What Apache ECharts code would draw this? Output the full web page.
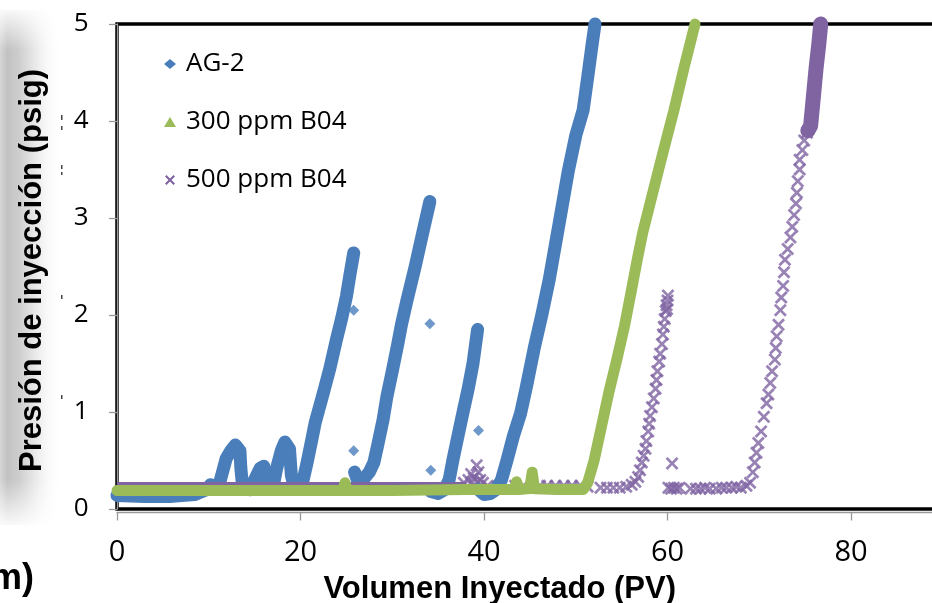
<!DOCTYPE html>
<html>
<head>
<meta charset="utf-8">
<title>Presión de inyección vs Volumen inyectado</title>
<script src="https://cdn.jsdelivr.net/npm/echarts@6.0.0/dist/echarts.min.js"></script>
<style>
  html, body { margin: 0; padding: 0; background: #fff; overflow: hidden; }
  #chart { width: 1100px; height: 603px; }
</style>
</head>
<body>
<div id="chart"></div>
<script>
// AG-2 (blue): dense runs drawn as thick broken line, null = gap
var agVol = [0, 3, 6, 8.5, 9.8, 10.2, 10.6, 11.1, 11.5, 11.9, 12.4, 12.9, 13.4, 13.5, 13.7, 14.5, 15.0, 15.6, 16.0, 16.2, 16.5, 17.0, 17.4, 17.9, 18.3, 18.8, 19.0, 19.4, 20.1, 20.7, 21.2, 21.6, 22.5, 23.2, 23.9, 24.5, 25.0, 25.4, 25.8,
  null,
  25.9, 26.2, 26.8, 27.5, 28.0, 28.4, 29.0, 29.4, 30.0, 30.6, 31.0, 31.6, 32.5, 33.4, 34.1,
  null,
  34.2, 35.0, 35.7, 36.2, 36.6, 37.2, 37.7, 38.3, 38.8, 39.3,
  null,
  39.4, 40.0, 40.7, 41.3, 41.9, 42.5, 43.2, 44.0, 44.6, 45.5, 46.3, 47.1, 48.2, 49.2, 50.0, 50.8, 51.3, 51.8, 52.1];
var agPres = [0.14, 0.13, 0.13, 0.15, 0.2, 0.25, 0.2, 0.24, 0.38, 0.52, 0.6, 0.66, 0.6, 0.42, 0.22, 0.2, 0.3, 0.42, 0.44, 0.3, 0.2, 0.22, 0.42, 0.6, 0.69, 0.62, 0.35, 0.2, 0.22, 0.47, 0.7, 0.89, 1.2, 1.45, 1.74, 1.97, 2.19, 2.42, 2.64,
  null,
  0.38, 0.3, 0.3, 0.38, 0.48, 0.65, 0.92, 1.15, 1.42, 1.7, 1.9, 2.15, 2.5, 2.88, 3.17,
  null,
  0.18, 0.16, 0.2, 0.3, 0.5, 0.77, 0.99, 1.25, 1.5, 1.85,
  null,
  0.2, 0.15, 0.16, 0.2, 0.3, 0.5, 0.75, 0.99, 1.25, 1.67, 2.0, 2.36, 2.95, 3.49, 3.85, 4.11, 4.45, 4.8, 5.0];

// AG-2 stray points
var agOutVol = [25.8, 25.8, 34.1, 34.2, 39.4];
var agOutPres = [2.05, 0.6, 1.91, 0.4, 0.81];

// 300 ppm B04 (green)
var b300Vol = [0, 10, 20, 24.6, 24.85, 25.1, 30, 38, 43.3, 43.55, 43.8, 45.0, 45.25, 45.5, 48, 50.8, 51.3, 52.0, 52.8, 53.6, 54.5, 55.3, 56.0, 56.7, 57.3, 58.5, 59.6, 60.7, 61.8, 63.0];
var b300Pres = [0.19, 0.19, 0.19, 0.19, 0.27, 0.19, 0.19, 0.2, 0.2, 0.28, 0.2, 0.21, 0.38, 0.21, 0.2, 0.2, 0.27, 0.5, 0.85, 1.2, 1.55, 1.88, 2.22, 2.57, 2.85, 3.3, 3.71, 4.11, 4.55, 5.0];

// 500 ppm B04 (purple): flat start and packed top run
var b500BaseVol = [0, 20, 38];
var b500BasePres = [0.26, 0.26, 0.26];
var b500TopVol = [75.3, 75.6, 75.9, 76.2, 76.5, 76.7];
var b500TopPres = [3.9, 3.95, 4.25, 4.55, 4.8, 5.0];

// 500 ppm B04 single markers
var b500Vol = [37.8, 38.3, 38.6, 38.9, 39.2, 39.4, 39.6, 39.9, 38.7, 39.3,
  40.4, 41.5, 43.4, 44.3, 45.2, 46.1, 46.9, 47.8, 48.7, 49.6, 50.5, 51.3, 52.7, 53.4, 54.1, 54.8, 55.5, 56.1, 56.5,
  56.8, 57.0, 57.2, 57.4, 57.6, 57.7, 57.9, 58.0, 58.1, 58.3, 58.5, 58.7, 58.8, 58.9, 59.1, 59.2, 59.4, 59.5, 59.6, 59.7, 59.8, 59.9, 60.0, 60.05, 59.95,
  60.5,
  60.1, 60.4, 60.7, 61.0, 61.3, 62.5, 63.1, 63.6, 64.1, 64.6, 65.3, 65.9, 66.4, 67.0, 67.5, 68.0, 68.6,
  69.0, 69.3, 69.5, 69.7, 69.9, 70.2, 70.5, 70.8, 71.0, 71.2, 71.4, 71.7, 71.8, 71.9, 72.1, 72.3, 72.4, 72.6, 72.7, 72.8, 73.1, 73.4, 73.6, 73.8, 74.0, 74.1, 74.2, 74.4, 74.4, 74.7, 74.9, 75.2];
var b500Pres = [0.27, 0.3, 0.36, 0.32, 0.45, 0.38, 0.3, 0.27, 0.27, 0.28,
  0.24, 0.23, 0.24, 0.24, 0.24, 0.24, 0.24, 0.24, 0.24, 0.24, 0.24, 0.23, 0.22, 0.22, 0.22, 0.22, 0.23, 0.25, 0.28,
  0.33, 0.4, 0.48, 0.55, 0.62, 0.7, 0.8, 0.88, 0.96, 1.05, 1.14, 1.24, 1.33, 1.42, 1.52, 1.6, 1.7, 1.8, 1.88, 1.96, 2.04, 2.1, 2.15, 2.2, 2.06,
  0.47,
  0.22, 0.21, 0.22, 0.21, 0.22, 0.21, 0.21, 0.21, 0.22, 0.21, 0.21, 0.22, 0.22, 0.22, 0.23, 0.22, 0.24,
  0.27, 0.38, 0.48, 0.58, 0.68, 0.8, 0.95, 1.09, 1.18, 1.3, 1.42, 1.54, 1.66, 1.78, 1.9, 2.05, 2.18, 2.3, 2.44, 2.57, 2.68, 2.8, 2.91, 3.03, 3.15, 3.26, 3.38, 3.5, 3.6, 3.7, 3.8, 3.88];

var blue = '#4A7EBB', green = '#9BBB59', purple = '#8064A2';
var crossPath = 'path://M0,1.5 L1.5,0 L5,3.5 L8.5,0 L10,1.5 L6.5,5 L10,8.5 L8.5,10 L5,6.5 L1.5,10 L0,8.5 L3.5,5 Z';

function pairs(xs, ys) {
    return xs.map(function (x, i) {
        return x == null ? ['-', '-'] : [x, ys[i]];
    });
}

function fade(x, y, w, h, horizontal, stops) {
    return {
        type: 'rect', z: -10, silent: true,
        shape: { x: x, y: y, width: w, height: h },
        style: {
            fill: new echarts.graphic.LinearGradient(0, 0, horizontal ? 1 : 0, horizontal ? 0 : 1,
                stops.map(function (s) { return { offset: s[0], color: s[1] }; }))
        }
    };
}

var chart = echarts.init(document.getElementById('chart'));
chart.setOption({
    animation: false,
    grid: {
        left: 117, top: 24, width: 917.5, height: 485,
        outerBoundsMode: 'none',
        show: true, borderColor: '#000', borderWidth: 3.5
    },
    legend: {
        orient: 'vertical',
        left: 159, top: 46,
        itemWidth: 12, itemHeight: 10, itemGap: 32,
        lineStyle: { opacity: 0, width: 0 },
        textStyle: { fontFamily: 'Open Sans', fontSize: 26, lineHeight: 26, color: '#000', padding: [0, 0, 0, 5] },
        data: [
            { name: 'AG-2', icon: 'diamond' },
            { name: '300 ppm B04', icon: 'triangle' },
            { name: '500 ppm B04', icon: crossPath }
        ]
    },
    xAxis: {
        type: 'value', min: 0, max: 100, interval: 20, offset: 3.5,
        axisLine: { show: true, onZero: false, lineStyle: { color: '#9a9a9a', width: 1.3 } },
        axisTick: { show: true, length: 8, lineStyle: { color: '#9a9a9a', width: 1.3 } },
        axisLabel: { margin: 26, color: '#000', fontSize: 29, fontFamily: 'Open Sans' },
        splitLine: { show: false },
        name: 'Volumen Inyectado (PV)', nameLocation: 'middle', nameGap: 61,
        nameTextStyle: { fontFamily: 'Liberation Sans', fontWeight: 'bold', fontSize: 31, color: '#000', padding: [0, 152, 0, 0] }
    },
    yAxis: {
        type: 'value', min: 0, max: 5, interval: 1, offset: 3.5,
        axisLine: { show: true, lineStyle: { color: '#9a9a9a', width: 1.3 } },
        axisTick: { show: true, length: 8, lineStyle: { color: '#9a9a9a', width: 1.3 } },
        axisLabel: { margin: 25, color: '#000', fontSize: 26, fontFamily: 'Open Sans' },
        splitLine: { show: false },
        name: 'Presión de inyección (psig)', nameLocation: 'middle', nameGap: 66, nameRotate: 90,
        nameTextStyle: { fontFamily: 'Liberation Sans', fontWeight: 'bold', fontSize: 31, color: '#000', padding: [0, 8, 0, 0] }
    },
    graphic: [
        // soft grey shade down the left edge
        fade(0, 10, 62, 515, true, [[0, '#d6d6d6'], [0.12, '#c2c2c2'], [0.3, '#cdcdcd'], [0.6, '#ececec'], [1, 'rgba(255,255,255,0)']]),
        fade(0, 5, 62, 45, false, [[0, '#ffffff'], [1, 'rgba(255,255,255,0)']]),
        fade(0, 480, 62, 50, false, [[0, 'rgba(255,255,255,0)'], [1, '#ffffff']]),
        { type: 'rect', silent: true, shape: { x: 61, y: 115, width: 1.5, height: 5 }, style: { fill: '#444' } },
        { type: 'rect', silent: true, shape: { x: 61, y: 126, width: 1.5, height: 4 }, style: { fill: '#444' } },
        { type: 'rect', silent: true, shape: { x: 61, y: 165, width: 1.5, height: 4 }, style: { fill: '#444' } },
        { type: 'rect', silent: true, shape: { x: 61, y: 172, width: 1.5, height: 3 }, style: { fill: '#444' } },
        { type: 'rect', silent: true, shape: { x: 61, y: 295, width: 1.5, height: 4 }, style: { fill: '#444' } },
        { type: 'rect', silent: true, shape: { x: 61, y: 395, width: 1.5, height: 4 }, style: { fill: '#444' } },
        {
            type: 'text', silent: true, x: 34, y: 579,
            style: {
                text: 'm)', fill: '#000', align: 'right', verticalAlign: 'middle',
                fontFamily: 'Liberation Sans', fontWeight: 'bold', fontSize: 36
            }
        }
    ],
    series: [
        {
            name: 'AG-2', type: 'line', data: pairs(agVol, agPres),
            symbol: 'none', showSymbol: false, connectNulls: false, clip: false, silent: true,
            itemStyle: { color: blue },
            lineStyle: { color: blue, width: 13, cap: 'round', join: 'round' }
        },
        {
            name: 'AG-2', type: 'scatter', data: pairs(agOutVol, agOutPres),
            symbol: 'diamond', symbolSize: 11, silent: true,
            itemStyle: { color: blue }
        },
        {
            name: '500 ppm B04', type: 'line', data: pairs(b500BaseVol, b500BasePres),
            symbol: 'none', showSymbol: false, clip: false, silent: true,
            itemStyle: { color: purple },
            lineStyle: { color: purple, width: 3.5 }
        },
        {
            name: '300 ppm B04', type: 'line', data: pairs(b300Vol, b300Pres),
            symbol: 'none', showSymbol: false, clip: false, silent: true,
            itemStyle: { color: green },
            lineStyle: { color: green, width: 11, cap: 'round', join: 'round' }
        },
        {
            name: '500 ppm B04', type: 'scatter', data: pairs(b500Vol, b500Pres),
            symbol: crossPath, symbolSize: 13, silent: true,
            itemStyle: { color: purple }
        },
        {
            name: '500 ppm B04', type: 'line', data: pairs(b500TopVol, b500TopPres),
            symbol: 'none', showSymbol: false, clip: false, silent: true,
            itemStyle: { color: purple },
            lineStyle: { color: purple, width: 15, cap: 'round', join: 'round' }
        }
    ]
});
</script>
</body>
</html>
